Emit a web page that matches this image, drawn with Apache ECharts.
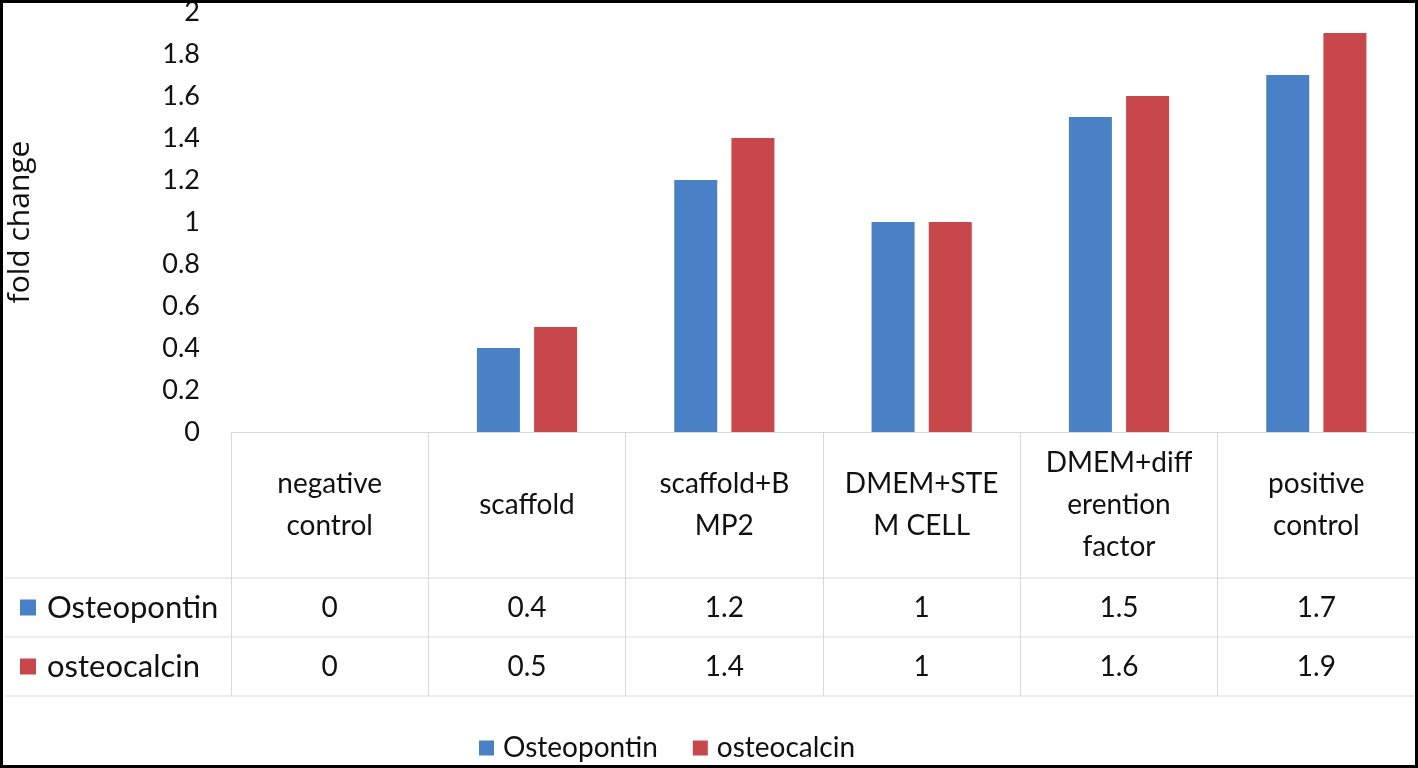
<!DOCTYPE html>
<html>
<head>
<meta charset="utf-8">
<script src="https://cdn.jsdelivr.net/npm/echarts@6/dist/echarts.min.js"></script>
<style>
html,body{margin:0;padding:0;background:#fff;}
#chart{width:1418px;height:768px;}
</style>
</head>
<body>
<div id="chart"></div>
<script>
// ---- data ----
const categories = ['negative\ncontrol', 'scaffold', 'scaffold+B\nMP2', 'DMEM+STE\nM CELL', 'DMEM+diff\nerention\nfactor', 'positive\ncontrol'];
const seriesNames = ['Osteopontin', 'osteocalcin'];
const osteopontin = [0, 0.4, 1.2, 1, 1.5, 1.7];
const osteocalcin = [0, 0.5, 1.4, 1, 1.6, 1.9];
const yTicks = { min: 0, max: 2, interval: 0.2 };
const colors = ['#4A80C6', '#C8474A'];

// ---- layout ----
const W = 1418, H = 768;
const gridLeft = 231, gridRight = 3, gridTop = 12, axisY = 432;
const headerH = 146, rowH = 59;
const lineColor = '#d9d9d9';
const font = 'Lato, "Open Sans", sans-serif';
const textColor = '#111';

const chart = echarts.init(document.getElementById('chart'), null, { renderer: 'canvas' });

function valueAxis(vals, offset) {
  return {
    type: 'category', data: categories, position: 'bottom', offset: offset,
    axisLine: { show: false }, axisTick: { show: false },
    axisLabel: {
      interval: 0, margin: rowH / 2, verticalAlign: 'middle',
      fontFamily: font, fontSize: 28, color: textColor,
      formatter: (v, i) => String(vals[i])
    }
  };
}

const rowLines = [axisY + headerH, axisY + headerH + rowH, axisY + headerH + 2 * rowH].map(y => ({
  type: 'line', shape: { x1: 5, y1: y, x2: W - gridRight, y2: y },
  style: { stroke: lineColor, lineWidth: 1 }, silent: true
}));

const rowLabels = [];
seriesNames.forEach((n, k) => {
  const cy = axisY + headerH + rowH * k + rowH / 2;
  rowLabels.push({
    type: 'rect', shape: { x: 20, y: cy - 8, width: 16, height: 16 },
    style: { fill: colors[k] }
  });
  rowLabels.push({
    type: 'text', x: 47, y: cy,
    style: { text: n, fill: textColor, font: '31px ' + font, textVerticalAlign: 'middle', verticalAlign: 'middle' }
  });
});

const option = {
  backgroundColor: '#fff',
  animation: false,
  color: colors,
  grid: { left: gridLeft, right: gridRight, top: gridTop, bottom: H - axisY, containLabel: false, outerBoundsMode: 'none' },
  legend: {
    data: seriesNames, left: 479, top: 734, icon: 'rect', padding: 0,
    itemWidth: 15, itemHeight: 15, itemGap: 35,
    textStyle: { fontFamily: font, fontSize: 28, color: textColor, padding: [0, 0, 0, 4] }
  },
  xAxis: [
    {
      type: 'category', data: categories, position: 'bottom',
      axisLine: { show: true, lineStyle: { color: lineColor, width: 1 } },
      axisTick: { show: true, length: headerH + 2 * rowH, lineStyle: { color: lineColor } },
      axisLabel: {
        interval: 0, margin: headerH / 2, verticalAlign: 'middle',
        fontFamily: font, fontSize: 28, lineHeight: 42, color: textColor, align: 'center'
      }
    },
    valueAxis(osteopontin, headerH),
    valueAxis(osteocalcin, headerH + rowH)
  ],
  yAxis: {
    type: 'value', min: yTicks.min, max: yTicks.max, interval: yTicks.interval,
    axisLine: { show: false }, axisTick: { show: false }, splitLine: { show: false },
    axisLabel: { fontFamily: font, fontSize: 27, color: textColor, margin: 31 },
    name: 'fold change', nameLocation: 'middle', nameGap: 196,
    nameTextStyle: { fontFamily: '"Open Sans", sans-serif', fontSize: 30, color: textColor }
  },
  series: [
    { name: seriesNames[0], type: 'bar', xAxisIndex: 0, data: osteopontin, barWidth: 43, barGap: '33%',
      itemStyle: { color: colors[0] } },
    { name: seriesNames[1], type: 'bar', xAxisIndex: 0, data: osteocalcin, barWidth: 43, barGap: '33%',
      itemStyle: { color: colors[1] } }
  ],
  graphic: [
    ...rowLines,
    ...rowLabels,
    { type: 'rect', shape: { x: 1.5, y: 1.5, width: W - 3, height: H - 3 },
      style: { fill: 'none', stroke: '#000', lineWidth: 3 }, silent: true, z: 100 }
  ]
};
chart.setOption(option);
</script>
</body>
</html>
